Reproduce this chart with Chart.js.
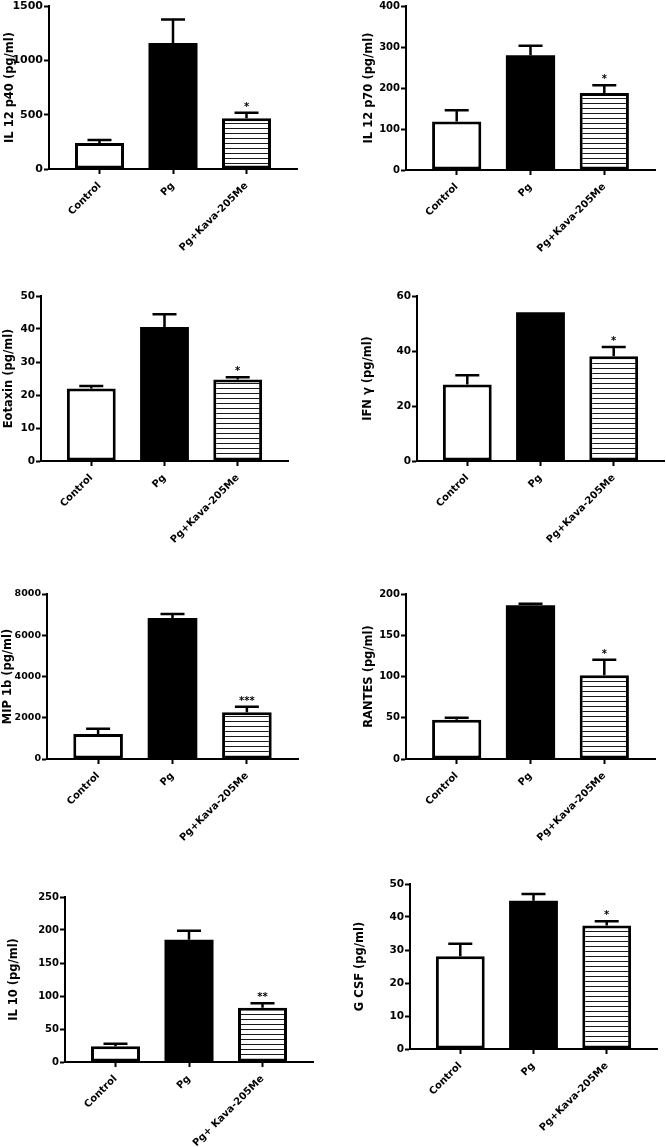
<!DOCTYPE html>
<html>
<head>
<meta charset="utf-8">
<title>Cytokine levels</title>
<script src="https://cdn.jsdelivr.net/npm/chart.js@4.4.1/dist/chart.umd.min.js"></script>
<style>
  html, body { margin: 0; padding: 0; background: #fff; overflow: hidden; }
  body { width: 666px; height: 1147px; position: relative; }
  canvas { position: absolute; }
</style>
</head>
<body>
<script>
// groups on the x axis
const groups = ["Control", "Pg", "Pg+Kava-205Me"];
const groupsIL10 = ["Control", "Pg", "Pg+ Kava-205Me"];

// mean and SEM per cytokine (pg/ml)
const il12p40 = [239, 1160, 466];
const il12p40Sem = [27, 215, 51];
const il12p70 = [118, 280, 188];
const il12p70Sem = [28, 23, 19];
const eotaxin = [22.0, 40.6, 24.7];
const eotaxinSem = [0.7, 3.9, 0.7];
const ifnG = [27.8, 54.1, 38.1];
const ifnGSem = [3.4, 0, 3.4];
const mip1b = [1212, 6836, 2263];
const mip1bSem = [259, 194, 274];
const rantes = [47.7, 186.3, 101.4];
const rantesSem = [2.4, 2.0, 19];
const il10 = [23.7, 185.4, 82.3];
const il10Sem = [4.1, 13.6, 6.6];
const gcsf = [28.1, 44.9, 37.4];
const gcsfSem = [3.8, 2.1, 1.3];

// significance marks
const starsOne = ["", "", "*"];
const starsTwo = ["", "", "**"];
const starsThree = ["", "", "***"];

const FONT = "'DejaVu Sans', Arial, sans-serif";
Chart.defaults.font.family = FONT;
Chart.defaults.font.weight = "bold";
Chart.defaults.color = "#000";

// striped fill for the treated group
const pc = document.createElement("canvas");
pc.width = 4;
pc.height = 5;
const pctx = pc.getContext("2d");
pctx.fillStyle = "#fff";
pctx.fillRect(0, 0, 4, 5);
pctx.fillStyle = "#1a1a1a";
pctx.fillRect(0, 2, 4, 1);
const stripes = pctx.createPattern(pc, "repeat");

const panels = [
  { title: "IL 12 p40 (pg/ml)", labels: groups, values: il12p40, sem: il12p40Sem, stars: starsOne, yMax: 1500, yStep: 500,
    box: { left: 3, axisX: 49, top: 6, right: 297, zero: 169, tickSize: 11 } },
  { title: "IL 12 p70 (pg/ml)", labels: groups, values: il12p70, sem: il12p70Sem, stars: starsOne, yMax: 400, yStep: 100,
    box: { left: 362, axisX: 406, top: 6, right: 655, zero: 170, tickSize: 10 } },
  { title: "Eotaxin (pg/ml)", labels: groups, values: eotaxin, sem: eotaxinSem, stars: starsOne, yMax: 50, yStep: 10,
    box: { left: 2, axisX: 41, top: 296, right: 288, zero: 461, tickSize: 10.5 } },
  { title: "IFN \u03b3 (pg/ml)", labels: groups, values: ifnG, sem: ifnGSem, stars: starsOne, yMax: 60, yStep: 20,
    box: { left: 361, axisX: 417, top: 296, right: 664, zero: 461, tickSize: 10.5 } },
  { title: "MIP 1b (pg/ml)", labels: groups, values: mip1b, sem: mip1bSem, stars: starsThree, yMax: 8000, yStep: 2000,
    box: { left: 1, axisX: 47, top: 594, right: 298, zero: 759, tickSize: 9.5 } },
  { title: "RANTES (pg/ml)", labels: groups, values: rantes, sem: rantesSem, stars: starsOne, yMax: 200, yStep: 50,
    box: { left: 362, axisX: 406, top: 594, right: 655, zero: 759, tickSize: 10 } },
  { title: "IL 10 (pg/ml)", labels: groupsIL10, values: il10, sem: il10Sem, stars: starsTwo, yMax: 250, yStep: 50,
    box: { left: 7, axisX: 65, top: 897, right: 313, zero: 1062, tickSize: 10 } },
  { title: "G CSF (pg/ml)", labels: groups, values: gcsf, sem: gcsfSem, stars: starsOne, yMax: 50, yStep: 10,
    box: { left: 353, axisX: 410, top: 884, right: 657, zero: 1049, tickSize: 10.5 } },
];

function errorBarPlugin(p) {
  return {
    id: "errorBars",
    afterDatasetsDraw(chart) {
      const ctx = chart.ctx;
      const y = chart.scales.y;
      const meta = chart.getDatasetMeta(0);
      ctx.save();
      ctx.strokeStyle = "#000";
      ctx.fillStyle = "#000";
      ctx.lineWidth = 2.5;
      ctx.font = "bold 10px " + FONT;
      ctx.textAlign = "center";
      ctx.textBaseline = "alphabetic";
      meta.data.forEach((bar, i) => {
        const top = y.getPixelForValue(p.values[i]);
        const errY = y.getPixelForValue(p.values[i] + p.sem[i]);
        if (p.sem[i] > 0) {
          ctx.beginPath();
          ctx.moveTo(bar.x, top);
          ctx.lineTo(bar.x, errY);
          ctx.moveTo(bar.x - 12, errY);
          ctx.lineTo(bar.x + 12, errY);
          ctx.stroke();
        }
        if (p.stars[i]) ctx.fillText(p.stars[i], bar.x, errY - 3);
      });
      ctx.restore();
    },
  };
}

const padTop = 10;
const xHeight = 95;

panels.forEach((p) => {
  const b = p.box;
  const cv = document.createElement("canvas");
  const w = b.right + 2 - b.left;
  const h = b.zero + xHeight - (b.top - padTop);
  cv.width = w;
  cv.height = h;
  cv.style.width = w + "px";
  cv.style.height = h + "px";
  cv.style.left = b.left + "px";
  cv.style.top = b.top - padTop + "px";
  document.body.appendChild(cv);

  const axisGrid = {
    display: true,
    drawOnChartArea: false,
    drawTicks: true,
    offset: false,
    tickLength: 5,
    tickWidth: 2,
    tickColor: "#000",
    color: "#000",
  };

  new Chart(cv, {
    type: "bar",
    data: {
      datasets: [
        {
          data: p.values.map((v, i) => ({ x: i + 1, y: v })),
          backgroundColor: ["#fff", "#000", stripes],
          borderColor: "#000",
          borderWidth: [3, 0, 3], // solid bar needs no outline (avoids a seam)
          borderSkipped: false,
          barPercentage: 0.667,
          categoryPercentage: 1,
        },
      ],
    },
    options: {
      responsive: false,
      animation: false,
      layout: { padding: { top: padTop, right: 2, left: 0, bottom: 0 } },
      plugins: { legend: { display: false }, tooltip: { enabled: false } },
      scales: {
        x: {
          type: "linear",
          min: 0.313,
          max: 3.687,
          offset: false,
          afterBuildTicks: (s) => {
            s.ticks = [1, 2, 3].map((v) => ({ value: v }));
          },
          afterFit: (s) => {
            s.height = xHeight;
          },
          border: { display: true, color: "#000", width: 2 },
          grid: axisGrid,
          ticks: {
            autoSkip: false,
            maxRotation: 45,
            minRotation: 45,
            padding: 6,
            color: "#000",
            font: { size: 10, weight: "bold" },
            callback: (v) => p.labels[v - 1],
          },
        },
        y: {
          min: 0,
          max: p.yMax,
          afterFit: (s) => {
            s.width = b.axisX - b.left;
          },
          border: { display: true, color: "#000", width: 2 },
          grid: axisGrid,
          ticks: {
            stepSize: p.yStep,
            padding: 1,
            color: "#000",
            font: { size: b.tickSize, weight: "bold" },
            callback: (v) => String(v),
          },
          title: {
            display: true,
            text: p.title,
            color: "#000",
            padding: 0,
            font: { size: 11.5, weight: "bold" },
          },
        },
      },
    },
    plugins: [errorBarPlugin(p)],
  });
});
</script>
</body>
</html>
